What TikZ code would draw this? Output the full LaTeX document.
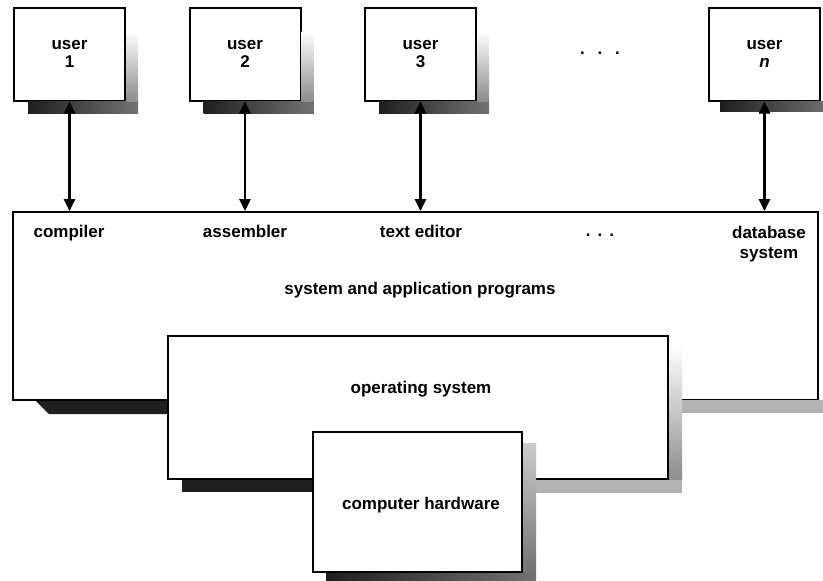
\documentclass[tikz,border=0pt]{standalone}
\usepackage{fontspec}
\setmainfont{Liberation Sans}
\usetikzlibrary{arrows.meta,calc}
\begin{document}
\begin{tikzpicture}[x=1pt,y=-1pt,
  lbl/.style={font=\bfseries\fontsize{17}{20}\selectfont, align=center, inner sep=0pt},
  userbox/.style={draw=black, line width=2pt, fill=white, minimum width=111pt, minimum height=93pt,
    inner sep=0pt, align=center, font=\bfseries\fontsize{17}{18}\selectfont},
  layerbox/.style={draw=black, line width=2pt, fill=white, inner sep=0pt},
  dbl/.style={{Triangle[width=11pt,length=12pt]}-{Triangle[width=11pt,length=12pt]}, line width=2.5pt},
  shdark/.style={fill=black!88},
  shbottom/.style={left color=black!88, right color=black!55},
  shlight/.style={fill=black!30},
  shfade/.style={top color=white, bottom color=black!45}]
\useasboundingbox[fill=white] (0,0) rectangle (823,581);

% system and application programs layer
\node[layerbox, minimum width=805pt, minimum height=188pt] (sys) at (415.5,306) {};
\fill[shdark] ($(sys.south west)+(24,0)$) -- ($(sys.south west)+(37,13)$)
  -- ($(sys.south west -| 168,0)+(0,13)$) -- (sys.south west -| 168,0) -- cycle;
\fill[shlight] (668,400) rectangle ($(sys.south east)+(13,12)$);
\node[lbl, anchor=base] (comp) at (69,237.5) {compiler};
\node[lbl, anchor=base] (asm) at (245,237.5) {assembler};
\node[lbl, anchor=base] (ted) at (421,237.5) {text editor};
\node[lbl, anchor=base] (pdots) at (600,236) {.\hspace{7pt}.\hspace{7pt}.};
\node[lbl] (db) at (769,244.5) {database\\system};
\node[lbl, anchor=base] (sap) at (420,294) {system and application programs};

% operating system layer
\node[layerbox, minimum width=500pt, minimum height=143pt] (os) at (418,407.5) {};
\fill[shfade] ($(os.north east)+(0,10)$) rectangle ($(os.south east)+(13,0)$);
\fill[shdark] ($(os.south west)+(15,0)$) rectangle (313,492);
\fill[shlight] (522,480) rectangle ($(os.south east)+(13,13)$);
\node[lbl, anchor=base] (ost) at (421,393) {operating system};

% computer hardware layer
\node[layerbox, minimum width=209pt, minimum height=140pt] (hw) at (417.5,502) {};
\fill[top color=black!20, bottom color=black!55] ($(hw.north east)+(0,12)$) rectangle ($(hw.south east)+(13,0)$);
\fill[shbottom] ($(hw.south west)+(14,0)$) rectangle ($(hw.south east)+(13,12)$);
\node[lbl, anchor=base] (chw) at (421,509) {computer hardware};

% users
\node[userbox] (u1) at (69.5,54) {user\\1};
\node[userbox] (u2) at (245,54) {user\\2};
\node[userbox] (u3) at (420.5,54) {user\\3};
\node[userbox] (un) at (764.5,54) {user\\\textit{n}};
\node[lbl, anchor=base] (topdots) at (600,54) {.\hspace{12.8pt}.\hspace{12.8pt}.};

\foreach \u in {u1,u2,u3}{
  \fill[shbottom] ($(\u.south west)+(15,0)$) rectangle ($(\u.south east)+(12,12)$);
  \fill[shfade] ($(\u.north east)+(0,25)$) rectangle ($(\u.south east)+(12,0)$);
}
\fill[shbottom] ($(un.south west)+(12,0)$) rectangle ($(un.south east)+(12,10)$);

% connectors
\foreach \u in {u1,u2,u3,un}{
  \draw[dbl] (\u.south) -- (\u.south |- sys.north);
}
\end{tikzpicture}
\end{document}
